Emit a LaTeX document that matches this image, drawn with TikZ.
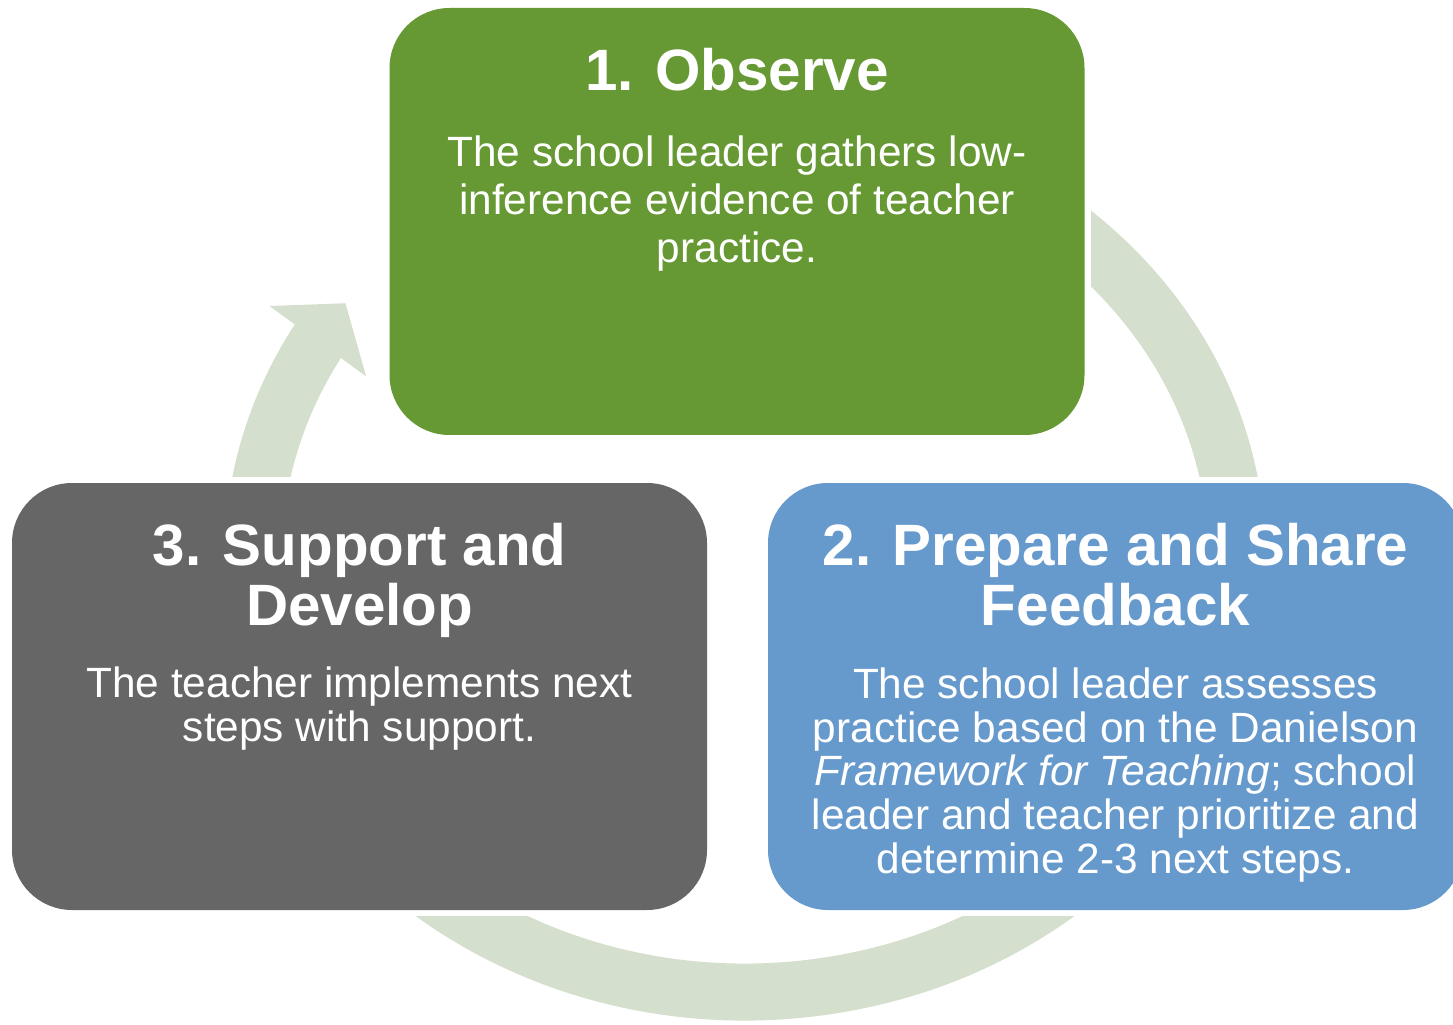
\documentclass[tikz,border=0pt]{standalone}
\usepackage{fontspec}
\setmainfont{Liberation Sans}
\usepackage{tikz}
\usetikzlibrary{arrows.meta,positioning,backgrounds,bending}
\definecolor{obsgreen}{HTML}{669933}
\definecolor{prepblue}{HTML}{6699CC}
\definecolor{supgray}{HTML}{666666}
\definecolor{ringgreen}{HTML}{D5DFCD}
\tikzset{
  stepbox/.style={rectangle, rounded corners=1.2cm, inner sep=0pt, minimum width=13.9cm, minimum height=8.54cm},
  obsbox/.style={stepbox, fill=obsgreen},
  prepbox/.style={stepbox, fill=prepblue},
  supbox/.style={stepbox, fill=supgray},
  steptitle/.style={inner sep=0pt, align=center, text=white, font=\fontsize{33.2}{34}\selectfont\bfseries},
  steptext/.style={inner sep=0pt, align=center, text=white, font=\fontsize{24.1}{24.8}\selectfont},
  cyclering/.style={draw=ringgreen, line width=1.14cm, -{Triangle[length=0.94cm, width=2.34cm]}}
}

\begin{document}
\begin{tikzpicture}
\useasboundingbox (0,0) rectangle (29.06,20.48);
\node[obsbox] (obs) at (14.74,16.05) {};
\node[prepbox] (prep) at (22.31,6.55) {};
\node[supbox] (sup) at (7.19,6.55) {};

\node[steptitle, below=0.81cm of obs.north] (obstitle) {1. Observe};
\node[steptext, below=2.56cm of obs.north, font=\fontsize{24.1}{27.2}\selectfont] (obstext)
  {The school leader gathers low-\\inference evidence of teacher\\practice.};
\node[steptitle, below=0.81cm of prep.north] (preptitle) {2. Prepare and Share\\Feedback};
\node[steptext, below=3.70cm of prep.north] (preptext)
  {The school leader assesses\\practice based on the Danielson\\\textit{Framework for Teaching}; school\\leader and teacher prioritize and\\determine 2-3 next steps.};
\node[steptitle, below=0.81cm of sup.north] (suptitle) {3. Support and\\Develop};
\node[steptext, below=3.68cm of sup.north] (suptext)
  {The teacher implements next\\steps with support.};

% ring behind the boxes, cut back around each box
\begin{scope}[on background layer]
  \coordinate (hub) at (14.9,9.34);
  \draw[cyclering] (hub) ++(100:9.84 and 8.7)
    arc[start angle=100, end angle=-215.7, x radius=9.84, y radius=8.7];
  \foreach \b in {obs,prep,sup}
    \fill[white] ([shift={(-0.12,-0.12)}]\b.south west) rectangle ([shift={(0.12,0.12)}]\b.north east);
\end{scope}
\end{tikzpicture}
\end{document}
